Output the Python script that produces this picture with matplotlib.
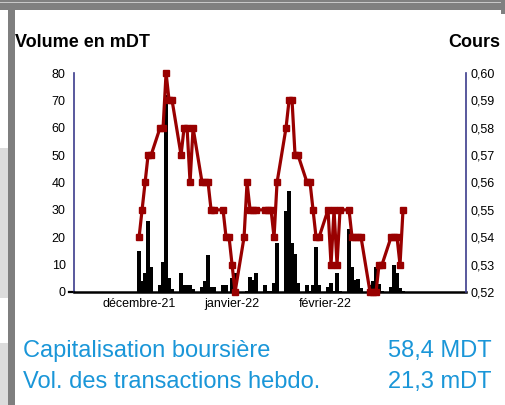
import numpy as np
import matplotlib.pyplot as plt
from matplotlib.patches import Rectangle

plt.rcParams['font.family'] = ['Liberation Sans', 'DejaVu Sans']

# sessions, in calendar days from the first one (5 sessions a week)
days = [0, 1, 2, 3, 4, 7, 8, 9, 10, 11, 14, 15, 16, 17, 18,
        21, 22, 23, 24, 25, 28, 29, 30, 31, 32, 35, 36, 37, 38, 39,
        42, 43, 44, 45, 46, 49, 50, 51, 52, 53, 56, 57, 58, 59, 60,
        63, 64, 65, 66, 67, 70, 71, 72, 73, 74, 77, 78, 79, 80, 81,
        84, 85, 86, 87, 88]
price = [0.54, 0.55, 0.56, 0.57, 0.57, 0.58, 0.58, 0.60, 0.59, 0.59,
         0.57, 0.58, 0.58, 0.56, 0.58, 0.56, 0.56, 0.56, 0.55, 0.55,
         0.55, 0.54, 0.54, 0.53, 0.52, 0.54, 0.56, 0.55, 0.55, 0.55,
         0.55, 0.55, 0.55, 0.54, 0.56, 0.58, 0.59, 0.59, 0.57, 0.57,
         0.56, 0.56, 0.55, 0.54, 0.54, 0.55, 0.53, 0.55, 0.53, 0.55,
         0.55, 0.54, 0.54, 0.54, 0.54, 0.52, 0.52, 0.52, 0.53, 0.53,
         0.54, 0.54, 0.54, 0.53, 0.55]
volume = [15, 4, 7, 26, 9, 2.5, 11, 72, 5, 1,
          7, 2.5, 2.5, 2.5, 1, 2, 4, 13.5, 2, 2,
          2.5, 2.5, 0, 5, 7, 0, 0.5, 5.6, 4.5, 7,
          2.5, 0.5, 0.5, 3.3, 18, 29.6, 37, 18, 14, 3.4,
          2.5, 0.5, 2.5, 16.5, 2.5, 2, 3.4, 0.5, 7, 0.5,
          23, 9, 4.5, 4.6, 1.5, 2.5, 4, 9, 3, 0.5,
          2, 10, 7, 1.5, 0.5]

month_pos = [0, 31, 62]
month_labels = ['décembre-21', 'janvier-22', 'février-22']
vol_ticks = [0, 10, 20, 30, 40, 50, 60, 70, 80]
price_ticks = [0.52, 0.53, 0.54, 0.55, 0.56, 0.57, 0.58, 0.59, 0.60]

W, H = 506, 405
fig = plt.figure(figsize=(W / 100, H / 100), dpi=100)


def box(x0, y0, x1, y1, color):
    # rectangle given in pixels from the top left corner
    fig.add_artist(Rectangle((x0 / W, 1 - y1 / H), (x1 - x0) / W, (y1 - y0) / H,
                             transform=fig.transFigure, color=color, lw=0, zorder=0))


# screenshot frame
box(0, 0, W, 10, '#808080')
box(0, 2, W, 3, '#c8c8c8')
box(501, 0, W, 14, '#808080')
box(8, 10, 15, H, '#7f7f7f')
box(0, 148, 8, 298, '#dcdcdc')
box(0, 343, 8, H, '#dcdcdc')

ax = fig.add_axes([74 / W, 1 - 292 / H, 392 / W, 219 / H])
ax.patch.set_alpha(0)
ax.bar(days, volume, width=1.15, color='black', lw=0, zorder=2)
ax.set_xlim(-21.7, 109)
ax.set_ylim(0, 80)
ax.set_yticks(vol_ticks)
ax.set_xticks(month_pos)
ax.set_xticklabels(month_labels)
ax.tick_params(axis='y', length=0, pad=6, labelsize=9)
ax.tick_params(axis='x', length=0, pad=4, labelsize=9)
ax.plot([-0.012, 0], [0, 0], color='black', lw=1.6, transform=ax.transAxes, clip_on=False)
for s in ['top', 'right']:
    ax.spines[s].set_visible(False)
ax.spines['left'].set_color('#3c3c8c')
ax.spines['left'].set_linewidth(1.2)
ax.spines['bottom'].set_color('black')
ax.spines['bottom'].set_linewidth(1.8)

ax2 = ax.twinx()
ax2.plot(days, price, '-s', color='#990000', lw=2.3, ms=3.8, clip_on=False, zorder=3)
ax2.set_ylim(0.52, 0.60)
ax2.set_yticks(price_ticks)
ax2.set_yticklabels(['{:.2f}'.format(p).replace('.', ',') for p in price_ticks])
ax2.tick_params(axis='y', length=0, pad=3, labelsize=9)
for s in ['top', 'left', 'bottom']:
    ax2.spines[s].set_visible(False)
ax2.spines['right'].set_color('#3c3c8c')
ax2.spines['right'].set_linewidth(1.2)

fig.text(15 / W, 1 - 46.7 / H, 'Volume en mDT', fontsize=13, fontweight='bold',
         ha='left', va='baseline')
fig.text(500 / W, 1 - 46.7 / H, 'Cours', fontsize=13, fontweight='bold',
         ha='right', va='baseline')

blue = '#1a96d8'
fig.text(23 / W, 1 - 356.7 / H, 'Capitalisation boursière', fontsize=17, color=blue,
         ha='left', va='baseline')
fig.text(491.7 / W, 1 - 356.7 / H, '58,4 MDT', fontsize=17, color=blue,
         ha='right', va='baseline')
fig.text(23 / W, 1 - 388.3 / H, 'Vol. des transactions hebdo.', fontsize=17, color=blue,
         ha='left', va='baseline')
fig.text(491.7 / W, 1 - 388.3 / H, '21,3 mDT', fontsize=17, color=blue,
         ha='right', va='baseline')

fig.savefig('out.png', dpi=100)
